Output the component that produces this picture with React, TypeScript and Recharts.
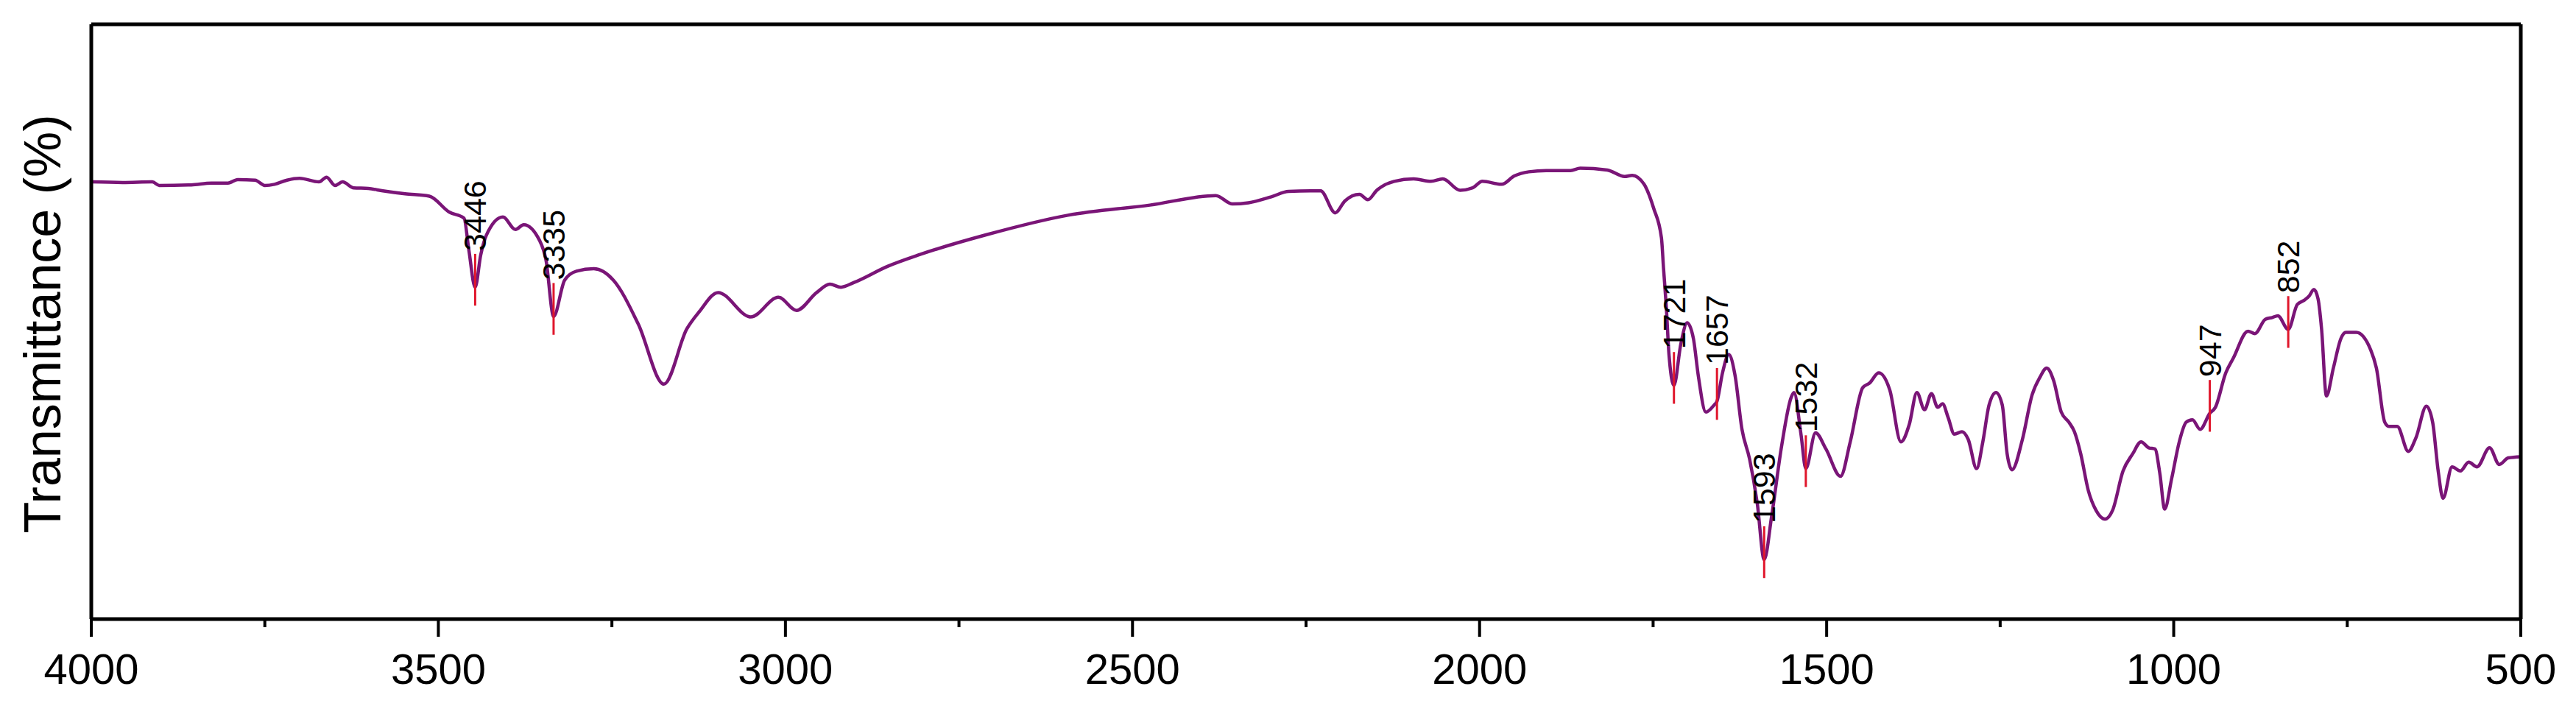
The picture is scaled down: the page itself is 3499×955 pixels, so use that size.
import React from 'react';
import { LineChart, Line, XAxis, YAxis, ReferenceLine, ReferenceDot } from 'recharts';

// Wavenumber (cm-1), descending order
const wavenumbers = [
  4000, 3955, 3912, 3902, 3856, 3827, 3803, 3789, 3764, 3750, 3736, 3718, 3700, 3672, 3661, 3649, 3638, 3622, 3601, 3580,
  3548, 3513, 3484, 3463, 3456, 3447, 3439, 3431, 3407, 3389, 3377, 3354, 3345, 3334, 3318, 3301, 3276, 3248, 3212, 3175,
  3142, 3124, 3097, 3050, 3010, 2984, 2955, 2936, 2920, 2901, 2853, 2806, 2711, 2593, 2475, 2380, 2356, 2333, 2300, 2275,
  2229, 2208, 2194, 2173, 2161, 2148, 2123, 2095, 2070, 2053, 2028, 2010, 1996, 1968, 1950, 1929, 1904, 1869, 1855, 1816,
  1791, 1780, 1763, 1749, 1738, 1735, 1731, 1727, 1720, 1710, 1701, 1692, 1685, 1674, 1662, 1658, 1650, 1641, 1632, 1622,
  1611, 1600, 1590, 1579, 1565, 1551, 1547, 1537, 1530, 1516, 1501, 1480, 1466, 1448, 1438, 1425, 1409, 1393, 1381, 1370,
  1359, 1349, 1340, 1333, 1325, 1316, 1305, 1296, 1284, 1275, 1266, 1256, 1247, 1240, 1233, 1218, 1204, 1193, 1183, 1173,
  1162, 1151, 1143, 1134, 1123, 1112, 1099, 1088, 1073, 1059, 1047, 1036, 1027, 1020, 1013, 1003, 992, 982, 973, 962,
  948, 940, 925, 914, 893, 883, 868, 858, 850, 835, 822, 812, 805, 798, 792, 787, 780, 770, 759, 752,
  737, 716, 708, 696, 690, 678, 662, 651, 636, 627, 619, 612, 599, 587, 575, 563, 545, 531, 518, 500,
];

// Transmittance (% of plot height, arbitrary units)
const transmittance = [
  73.5, 73.4, 73.5, 72.9, 73.0, 73.3, 73.3, 73.9, 73.8, 72.9, 73.1, 73.8, 74.1, 73.5, 74.3, 72.9, 73.5, 72.5, 72.4, 72.0,
  71.5, 71.1, 68.4, 67.4, 62.0, 55.8, 61.2, 64.5, 67.6, 65.5, 66.3, 63.6, 60.4, 50.9, 57.0, 58.5, 58.9, 57.0, 49.6, 39.5,
  48.8, 51.7, 54.9, 50.8, 54.1, 51.9, 54.9, 56.3, 55.8, 56.6, 59.3, 61.3, 64.6, 67.9, 69.6, 71.2, 69.8, 70.0, 71.0, 71.9,
  72.0, 68.3, 70.3, 71.4, 70.5, 72.1, 73.6, 74.0, 73.6, 74.0, 72.1, 72.5, 73.6, 73.1, 74.5, 75.2, 75.4, 75.4, 75.8, 75.5,
  74.4, 74.6, 73.1, 69.0, 64.1, 59.0, 52.5, 44.3, 39.3, 46.3, 49.8, 47.2, 41.0, 34.8, 36.0, 36.6, 41.4, 44.5, 41.0, 31.9,
  26.9, 19.5, 10.0, 17.5, 29.0, 37.3, 38.1, 31.1, 25.3, 31.3, 28.6, 24.0, 29.8, 38.9, 39.7, 41.4, 38.5, 29.8, 32.7, 38.1,
  35.2, 37.9, 35.6, 36.2, 33.9, 31.1, 31.5, 30.2, 25.3, 29.8, 36.0, 38.1, 36.0, 27.8, 25.1, 30.2, 37.7, 40.6, 42.2, 40.1,
  34.8, 33.1, 31.5, 27.8, 21.6, 18.3, 16.8, 18.3, 24.9, 27.8, 29.8, 28.8, 28.6, 24.5, 18.5, 23.6, 29.8, 33.1, 33.5, 31.9,
  34.6, 35.6, 41.4, 43.9, 48.4, 48.0, 50.4, 50.7, 51.0, 48.7, 52.9, 53.6, 54.3, 55.4, 53.8, 48.8, 37.5, 42.2, 47.2, 48.2,
  48.2, 45.2, 42.2, 33.1, 32.4, 32.4, 28.2, 30.5, 35.8, 33.1, 24.9, 20.3, 25.6, 24.9, 26.4, 25.6, 28.8, 26.0, 27.1, 27.3,
];

const majorTicks = [4000, 3500, 3000, 2500, 2000, 1500, 1000, 500];
const minorTicks = [3750, 3250, 2750, 2250, 1750, 1250, 750];

// Peak markers: where they are drawn on the axis, and the text written next to them
const peakPositions = [3447, 3334, 1720, 1658, 1590, 1530, 948, 835];
const peakLabels = ['3446', '3335', '1721', '1657', '1593', '1532', '947', '852'];

const data = wavenumbers.map((w, i) => ({ wn: w, t: transmittance[i] }));
const allTicks = [...majorTicks, ...minorTicks].sort((a, b) => b - a);

const FONT = "Arial, 'Liberation Sans', sans-serif";
const CURVE = '#7a1577';
const MARK = '#e0162b';

const tOf = (w: number) => {
  let best = data[0];
  for (const d of data) if (Math.abs(d.wn - w) < Math.abs(best.wn - w)) best = d;
  return best.t;
};

const XTick = (props: any) => {
  const { x, y, payload } = props;
  const major = majorTicks.includes(payload.value);
  return (
    <g>
      <line x1={x} x2={x} y1={y} y2={y + (major ? 24 : 11)} stroke="#000" strokeWidth={4} />
      {major && (
        <text x={x} y={y + 88} textAnchor="middle" fontSize={58} fontFamily={FONT} fill="#000">
          {payload.value}
        </text>
      )}
    </g>
  );
};

const YLabel = (props: any) => {
  const vb = props.viewBox || { x: 0, y: 33, width: 124, height: 808 };
  const cx = vb.x + 82;
  const cy = vb.y + vb.height / 2 + 3;
  return (
    <text
      x={cx}
      y={cy}
      transform={`rotate(-90, ${cx}, ${cy})`}
      textAnchor="middle"
      fontSize={70}
      fontFamily={FONT}
      fill="#000"
    >
      Transmittance (%)
    </text>
  );
};

const makePeakLabel = (label: string) => (props: any) => {
  const { cx, cy } = props;
  const x = cx + 15;
  const y = cy - 4;
  return (
    <text
      x={x}
      y={y}
      transform={`rotate(-90, ${x}, ${y})`}
      textAnchor="start"
      fontSize={43}
      fontFamily={FONT}
      fill="#000"
    >
      {label}
    </text>
  );
};

export default function App() {
  return (
    <div style={{ position: 'absolute', left: 0, top: 0, background: '#fff' }}>
      <LineChart width={3499} height={955} data={data} margin={{ top: 0, right: 0, bottom: 0, left: 0 }}>
        <XAxis
          dataKey="wn"
          type="number"
          domain={[500, 4000]}
          reversed
          ticks={allTicks}
          interval={0}
          tickSize={0}
          tickMargin={0}
          tickLine={false}
          tick={<XTick />}
          height={114}
          axisLine={{ stroke: '#000', strokeWidth: 5 }}
          allowDataOverflow
        />
        <XAxis
          xAxisId="top"
          orientation="top"
          dataKey="wn"
          type="number"
          domain={[500, 4000]}
          reversed
          tick={false}
          tickLine={false}
          height={33}
          axisLine={{ stroke: '#000', strokeWidth: 5 }}
        />
        <YAxis
          type="number"
          domain={[0, 100]}
          tick={false}
          tickLine={false}
          width={124}
          axisLine={{ stroke: '#000', strokeWidth: 5 }}
          label={(p: any) => <YLabel {...p} />}
          allowDataOverflow
        />
        <YAxis
          yAxisId="right"
          orientation="right"
          type="number"
          domain={[0, 100]}
          tick={false}
          tickLine={false}
          width={75}
          axisLine={{ stroke: '#000', strokeWidth: 5 }}
        />
        <Line
          type="monotone"
          dataKey="t"
          stroke={CURVE}
          strokeWidth={4.5}
          strokeLinejoin="round"
          dot={false}
          activeDot={false}
          isAnimationActive={false}
        />
        {peakPositions.map((p, i) => {
          const t = tOf(p);
          return (
            <ReferenceLine
              key={`pl${i}`}
              segment={[
                { x: p, y: t + 5.6 },
                { x: p, y: t - 3.1 },
              ]}
              stroke={MARK}
              strokeWidth={3}
              ifOverflow="visible"
            />
          );
        })}
        {peakPositions.map((p, i) => {
          const t = tOf(p);
          return (
            <ReferenceDot
              key={`pd${i}`}
              x={p}
              y={t + 5.6}
              r={1}
              ifOverflow="visible"
              shape={makePeakLabel(peakLabels[i])}
            />
          );
        })}
      </LineChart>
    </div>
  );
}
